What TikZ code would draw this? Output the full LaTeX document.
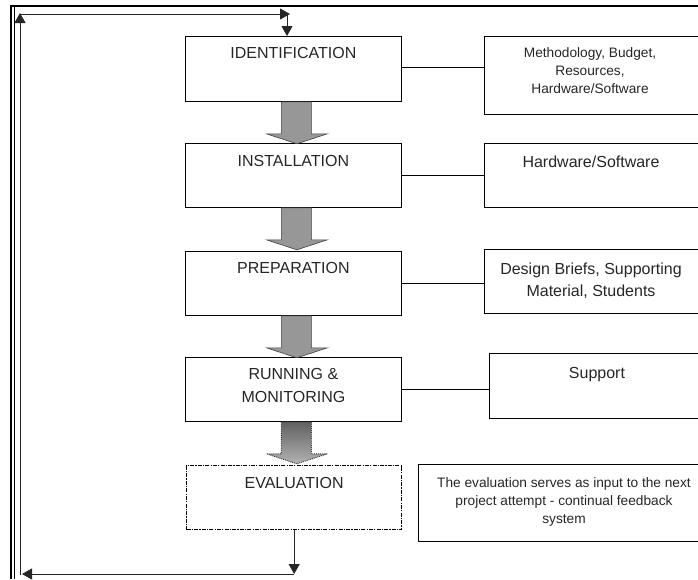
\documentclass[tikz,border=0pt]{standalone}
\usepackage{fontspec}
\setmainfont{Liberation Sans}
\usetikzlibrary{arrows.meta,calc}
\definecolor{txt}{HTML}{262626}
\definecolor{arrowgray}{HTML}{979797}
\begin{document}
\begin{tikzpicture}[x=1pt,y=-1pt,
  box/.style={draw=black,line width=0.8pt,inner sep=0pt,anchor=north west},
  evalbox/.style={draw=black,line width=1.3pt,inner sep=0pt,anchor=north west,
     dash pattern=on 4pt off 1.2pt on 1.2pt off 1.2pt},
  lbl/.style={anchor=north,inner sep=0pt,align=center,text=txt,font=\fontsize{16}{23}\selectfont},
  rlbl/.style={anchor=north,inner sep=0pt,align=center,text=txt,font=\fontsize{16}{22}\selectfont},
  slbl/.style={anchor=north,inner sep=0pt,align=center,text=txt,font=\fontsize{13.7}{18}\selectfont},
  link/.style={draw=black,line width=0.8pt},
  blockarrow/.style={draw=black!75,line width=0.6pt,fill=arrowgray},
  loop/.style={draw=black!85,line width=1pt,-{Triangle[length=10pt,width=11pt]}},
  frame/.style={draw=black,line width=1.6pt}
]
\useasboundingbox (0,0) rectangle (698,579);
\clip (0,0) rectangle (698,579);

% page frame
\draw[frame] (11,579) -- (11,6) -- (698,6);
\draw[draw=black,line width=0.7pt] (14.5,579) -- (14.5,6);

% left column boxes
\node[box,minimum width=216,minimum height=65] (ID) at (185,36) {};
\node[box,minimum width=216,minimum height=64] (INST) at (185,143) {};
\node[box,minimum width=216,minimum height=64] (PREP) at (185,251) {};
\node[box,minimum width=216,minimum height=64] (RUN) at (185,357) {};
\node[evalbox,minimum width=215,minimum height=64] (EVAL) at (186,465) {};

\node[lbl] (tID) at ([yshift=-11]ID.north) {IDENTIFICATION};
\node[lbl] (tINST) at ([yshift=-12]INST.north) {INSTALLATION};
\node[lbl] (tPREP) at ([yshift=-11.5]PREP.north) {PREPARATION};
\node[lbl] (tRUN) at ([yshift=-11.5]RUN.north) {RUNNING \&\\MONITORING};
\node[lbl] (tEVAL) at ([yshift=-12]EVAL.north) {EVALUATION};

% right column boxes
\node[box,minimum width=215,minimum height=78] (R1) at (484,36) {};
\node[box,minimum width=216,minimum height=64] (R2) at (484,143) {};
\node[box,minimum width=216,minimum height=64] (R3) at (484,249) {};
\node[box,minimum width=220,minimum height=65] (R4) at (489,353) {};
\node[box,minimum width=300,minimum height=77] (R5) at (418,464) {};

\node[slbl] (tR1) at (590,47) {Methodology, Budget,\\Resources,\\Hardware/Software};
\node[rlbl] (tR2) at (591,156) {Hardware/Software};
\node[rlbl] (tR3) at (591,263) {Design Briefs, Supporting\\Material, Students};
\node[rlbl] (tR4) at (597,367) {Support};
\node[slbl] (tR5) at (564,477) {The evaluation serves as input to the next\\project attempt - continual feedback\\system};

% links
\draw[link] ([yshift=1.5]ID.east) -- ([yshift=1.5]ID.east -| R1.west);
\draw[link] (INST.east) -- (INST.east -| R2.west);
\draw[link] (PREP.east) -- (PREP.east -| R3.west);
\draw[link] (RUN.east) -- (RUN.east -| R4.west);

% block arrows
\draw[blockarrow] ([xshift=-12]ID.south) -- ++(0,32) -- ++(-15,0) -- ++(30.5,10) -- ++(30.5,-10) -- ++(-16,0) -- ++(0,-32) -- cycle;
\draw[blockarrow] ([xshift=-12]INST.south) -- ++(0,32) -- ++(-15,0) -- ++(30.5,10) -- ++(30.5,-10) -- ++(-16,0) -- ++(0,-32) -- cycle;
\draw[blockarrow] ([xshift=-12]PREP.south) -- ++(0,32) -- ++(-15,0) -- ++(30.5,10) -- ++(30.5,-10) -- ++(-16,0) -- ++(0,-32) -- cycle;
\draw[draw=black!80,line width=0.9pt,densely dotted,top color=black!62,bottom color=black!30] ([xshift=-12]RUN.south) -- ++(0,32) -- ++(-15,0) -- ++(30.5,10) -- ++(30.5,-10) -- ++(-16,0) -- ++(0,-32) -- cycle;

% feedback loop
\coordinate (bl) at (20,574);
\coordinate (tl) at (20,13);
\coordinate (tr) at (290,14);
\coordinate (drop) at (287,14);
\coordinate (br) at (EVAL.south |- bl);
\draw[loop] (EVAL.south) -- (br);
\draw[loop] (br) -- ([xshift=2]bl);
\draw[loop] ([yshift=-0.5]bl) -- (tl);
\draw[loop] ([yshift=-1]tl) -- (tr);
\draw[loop] (drop) -- (drop |- ID.north);
\end{tikzpicture}
\end{document}
